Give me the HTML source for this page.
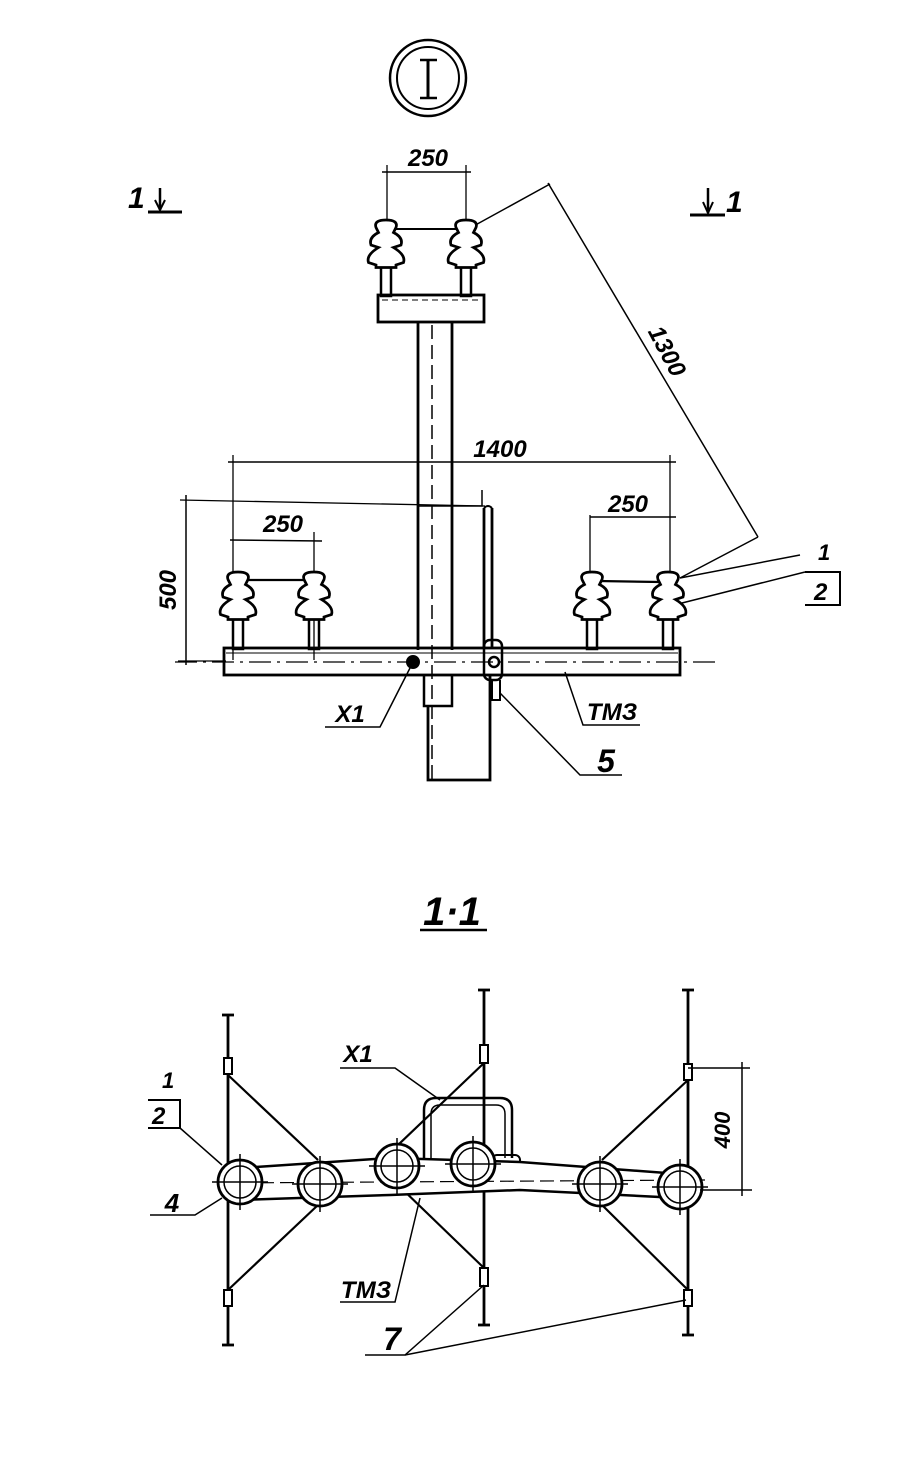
<!DOCTYPE html>
<html><head><meta charset="utf-8"><style>
html,body{margin:0;padding:0;background:#fff}
svg{display:block}
text{font-family:"Liberation Sans",sans-serif;font-style:italic;font-weight:bold;fill:#000}
</style></head><body>
<svg width="900" height="1460" viewBox="0 0 900 1460" xmlns="http://www.w3.org/2000/svg">
<defs>
<g id="head">
<path d="M-8,-6 Q-10,-12 0,-12 Q10,-12 8,-6 L6,-2 Q14,2 12,8 L6,10 Q16,16 14,22 L8,24 L8,26 L-8,26 L-8,24 L-14,22 Q-16,16 -6,10 L-12,8 Q-14,2 -6,-2 Z" fill="#fff" stroke="#000" stroke-width="2.2"/>
</g>
</defs>
<g stroke="#000" fill="none" stroke-width="2">
<!-- top circle -->
<circle cx="428" cy="78" r="38" stroke-width="2.5"/>
<circle cx="428" cy="78" r="31" stroke-width="2"/>
<line x1="428" y1="60" x2="428" y2="98" stroke-width="3"/>
<line x1="420" y1="60" x2="437" y2="60" stroke-width="2.5"/>
<line x1="420" y1="98" x2="437" y2="98" stroke-width="2.5"/>
<!-- section marks -->
<line x1="148" y1="212" x2="182" y2="212" stroke-width="3"/>
<line x1="160" y1="188" x2="160" y2="210" stroke-width="2.5"/>
<path d="M155,200 L160,210 L165,200" stroke-width="2"/>
<line x1="690" y1="215" x2="725" y2="215" stroke-width="3"/>
<line x1="708" y1="188" x2="708" y2="213" stroke-width="2.5"/>
<path d="M703,202 L708,213 L713,202" stroke-width="2"/>
<!-- top dim 250 -->
<line x1="387" y1="165" x2="387" y2="228" stroke-width="1.3"/>
<line x1="466" y1="165" x2="466" y2="228" stroke-width="1.3"/>
<line x1="382" y1="172" x2="471" y2="172" stroke-width="1.5"/>
<line x1="386" y1="229" x2="466" y2="229" stroke-width="2"/>
<!-- 1300 dim -->
<line x1="470" y1="228" x2="550" y2="184" stroke-width="1.5"/>
<line x1="548" y1="183" x2="758" y2="537" stroke-width="1.5"/>
<line x1="758" y1="537" x2="680" y2="578" stroke-width="1.5"/>
<!-- stems top -->
<rect x="381" y="266" width="10" height="30" fill="#fff" stroke-width="2.5"/>
<rect x="461" y="266" width="10" height="30" fill="#fff" stroke-width="2.5"/>
<!-- crossbar top -->
<rect x="378" y="295" width="106" height="27" stroke-width="2.8"/>
<line x1="382" y1="300" x2="480" y2="300" stroke-dasharray="6,4" stroke-width="1"/>
<!-- pole -->
<line x1="418" y1="322" x2="418" y2="650" stroke-width="2.8"/>
<line x1="452" y1="322" x2="452" y2="650" stroke-width="2.8"/>
<line x1="432" y1="325" x2="432" y2="780" stroke-dasharray="14,6" stroke-width="1.5"/>
<path d="M424,675 L424,706 L452,706 L452,675" stroke-width="2.5"/>
<path d="M428,706 L428,780 L490,780 L490,675" stroke-width="2.8"/>
<!-- vertical bracket pipe -->
<path d="M418,506 L482,506 L482,490" stroke-width="1.5"/>
<line x1="484" y1="508" x2="484" y2="648" stroke-width="2.8"/>
<line x1="492" y1="508" x2="492" y2="648" stroke-width="2.8"/>
<path d="M484,508 Q488,504 492,508" stroke-width="2"/>
<rect x="484" y="640" width="18" height="40" rx="6" stroke-width="2.5"/>
<path d="M492,680 L492,700 L500,700 L500,680" stroke-width="2"/>
<!-- stems bottom -->
<rect x="233" y="618" width="10" height="31" fill="#fff" stroke-width="2.5"/>
<rect x="309" y="618" width="10" height="31" fill="#fff" stroke-width="2.5"/>
<rect x="587" y="618" width="10" height="31" fill="#fff" stroke-width="2.5"/>
<rect x="663" y="618" width="10" height="31" fill="#fff" stroke-width="2.5"/>
<!-- crossarm -->
<rect x="224" y="648" width="456" height="27" stroke-width="2.8"/>
<line x1="226" y1="653" x2="678" y2="653" stroke-width="1"/>
<line x1="175" y1="662" x2="720" y2="662" stroke-dasharray="22,6,3,6" stroke-width="1.3"/>
<circle cx="413" cy="662" r="6" fill="#000"/>
<circle cx="494" cy="662" r="5" stroke-width="2.5"/>
<!-- dimension 1400 -->
<line x1="233" y1="455" x2="233" y2="660" stroke-width="1.3"/>
<line x1="670" y1="455" x2="670" y2="580" stroke-width="1.3"/>
<line x1="228" y1="462" x2="676" y2="462" stroke-width="1.5"/>
<!-- dim 500 -->
<line x1="186" y1="495" x2="186" y2="665" stroke-width="1.5"/>
<line x1="180" y1="500" x2="485" y2="506" stroke-width="1.3"/>
<line x1="178" y1="661" x2="226" y2="661" stroke-width="1.3"/>
<!-- dim 250 left -->
<line x1="230" y1="540" x2="322" y2="541" stroke-width="1.5"/>
<line x1="314" y1="532" x2="314" y2="660" stroke-width="1.3"/>
<!-- dim 250 right -->
<line x1="590" y1="517" x2="676" y2="517" stroke-width="1.5"/>
<line x1="590" y1="515" x2="590" y2="580" stroke-width="1.3"/>
<!-- tie lines -->
<line x1="245" y1="580" x2="305" y2="580" stroke-width="2.2"/>
<line x1="598" y1="581" x2="660" y2="582" stroke-width="2.2"/>
<!-- leaders -->
<line x1="682" y1="603" x2="805" y2="572" stroke-width="1.5"/>
<line x1="680" y1="578" x2="800" y2="555" stroke-width="1.5"/>
<path d="M805,572 L840,572 L840,605 L805,605" stroke-width="2"/>
<path d="M410,668 L380,727 L325,727" stroke-width="1.5"/>
<path d="M565,672 L583,725 L640,725" stroke-width="1.5"/>
<path d="M500,693 L580,775 L622,775" stroke-width="1.5"/>
<!-- 1.1 underline -->
<line x1="420" y1="930" x2="487" y2="930" stroke-width="2.5"/>
</g>
<use href="#head" transform="translate(386,235) scale(1.25)"/>
<use href="#head" transform="translate(466,235) scale(1.25)"/>
<use href="#head" transform="translate(238,587) scale(1.25)"/>
<use href="#head" transform="translate(314,587) scale(1.25)"/>
<use href="#head" transform="translate(592,587) scale(1.25)"/>
<use href="#head" transform="translate(668,587) scale(1.25)"/>
<!-- bottom view -->
<g stroke="#000" fill="none" stroke-width="2.8">
<line x1="228" y1="1015" x2="228" y2="1345"/>
<line x1="484" y1="990" x2="484" y2="1325"/>
<line x1="688" y1="990" x2="688" y2="1335"/>
<line x1="222" y1="1015" x2="234" y2="1015"/><line x1="222" y1="1345" x2="234" y2="1345"/>
<line x1="478" y1="990" x2="490" y2="990"/><line x1="478" y1="1325" x2="490" y2="1325"/>
<line x1="682" y1="990" x2="694" y2="990"/><line x1="682" y1="1335" x2="694" y2="1335"/>
<rect x="224" y="1058" width="8" height="16" fill="#fff" stroke-width="2"/>
<rect x="480" y="1045" width="8" height="18" fill="#fff" stroke-width="2"/>
<rect x="684" y="1064" width="8" height="16" fill="#fff" stroke-width="2"/>
<rect x="224" y="1290" width="8" height="16" fill="#fff" stroke-width="2"/>
<rect x="480" y="1268" width="8" height="18" fill="#fff" stroke-width="2"/>
<rect x="684" y="1290" width="8" height="16" fill="#fff" stroke-width="2"/>
<!-- diagonals -->
<line x1="228" y1="1075" x2="318" y2="1160" stroke-width="2.2"/>
<line x1="228" y1="1290" x2="318" y2="1205" stroke-width="2.2"/>
<line x1="484" y1="1063" x2="398" y2="1145" stroke-width="2.2"/>
<line x1="484" y1="1268" x2="398" y2="1185" stroke-width="2.2"/>
<line x1="688" y1="1080" x2="602" y2="1160" stroke-width="2.2"/>
<line x1="688" y1="1290" x2="602" y2="1205" stroke-width="2.2"/>
<!-- bracket frame -->
<path d="M424,1165 L424,1110 Q424,1098 436,1098 L500,1098 Q512,1098 512,1110 L512,1158" stroke-width="2.5"/>
<path d="M431,1160 L431,1114 Q431,1105 440,1105 L496,1105 Q505,1105 505,1114 L505,1158" stroke-width="1.5"/>
<rect x="492" y="1155" width="28" height="20" rx="5" stroke-width="2"/>
<!-- beam -->
<path d="M240,1168 L390,1158 L520,1162 L680,1174 L680,1198 L520,1190 L390,1195 L240,1200" fill="#fff" stroke-width="2.5"/>
<line x1="220" y1="1183" x2="705" y2="1180" stroke-dasharray="14,6" stroke-width="1.2"/>
<g fill="#fff" stroke-width="2.8">
<circle cx="240" cy="1182" r="22"/><circle cx="320" cy="1184" r="22"/>
<circle cx="397" cy="1166" r="22"/><circle cx="473" cy="1164" r="22"/>
<circle cx="600" cy="1184" r="22"/><circle cx="680" cy="1187" r="22"/>
</g>
<g stroke-width="1.5">
<circle cx="240" cy="1182" r="16"/><circle cx="320" cy="1184" r="16"/>
<circle cx="397" cy="1166" r="16"/><circle cx="473" cy="1164" r="16"/>
<circle cx="600" cy="1184" r="16"/><circle cx="680" cy="1187" r="16"/>
<path d="M212,1182h56M240,1154v56M292,1184h56M320,1156v56M369,1166h56M397,1138v56M445,1164h56M473,1136v56M572,1184h56M600,1156v56M652,1187h56M680,1159v56"/>
</g>
<!-- dim 400 -->
<line x1="688" y1="1068" x2="750" y2="1068" stroke-width="1.5"/>
<line x1="700" y1="1190" x2="752" y2="1190" stroke-width="1.5"/>
<line x1="742" y1="1062" x2="742" y2="1196" stroke-width="1.5"/>
<!-- leaders -->
<path d="M148,1100 L180,1100 L180,1128 L148,1128" stroke-width="2"/>
<line x1="180" y1="1128" x2="222" y2="1165" stroke-width="1.5"/>
<path d="M150,1215 L195,1215 L222,1198" stroke-width="1.5"/>
<path d="M340,1068 L395,1068 L440,1100" stroke-width="1.5"/>
<path d="M340,1302 L395,1302 L420,1198" stroke-width="1.5"/>
<path d="M365,1355 L405,1355 L484,1285" stroke-width="1.5"/>
<line x1="405" y1="1355" x2="686" y2="1300" stroke-width="1.5"/>
</g>
<!-- text -->
<text x="428" y="166" font-size="24" text-anchor="middle">250</text>
<text x="128" y="208" font-size="30">1</text>
<text x="726" y="212" font-size="30">1</text>
<text x="660" y="355" font-size="24" text-anchor="middle" transform="rotate(62 660 355)">1300</text>
<text x="500" y="457" font-size="24" text-anchor="middle">1400</text>
<text x="283" y="532" font-size="24" text-anchor="middle">250</text>
<text x="628" y="512" font-size="24" text-anchor="middle">250</text>
<text x="176" y="590" font-size="24" text-anchor="middle" transform="rotate(-90 176 590)">500</text>
<text x="818" y="560" font-size="22">1</text>
<text x="814" y="600" font-size="24">2</text>
<text x="350" y="722" font-size="24" text-anchor="middle">Х1</text>
<text x="612" y="720" font-size="24" text-anchor="middle">ТМЗ</text>
<text x="606" y="772" font-size="32" text-anchor="middle">5</text>
<text x="452" y="925" font-size="40" text-anchor="middle">1·1</text>
<text x="162" y="1088" font-size="22">1</text>
<text x="152" y="1124" font-size="24">2</text>
<text x="172" y="1212" font-size="26" text-anchor="middle">4</text>
<text x="358" y="1062" font-size="24" text-anchor="middle">Х1</text>
<text x="366" y="1298" font-size="24" text-anchor="middle">ТМЗ</text>
<text x="392" y="1350" font-size="32" text-anchor="middle">7</text>
<text x="730" y="1130" font-size="22" text-anchor="middle" transform="rotate(-90 730 1130)">400</text>
</svg>
</body></html>
